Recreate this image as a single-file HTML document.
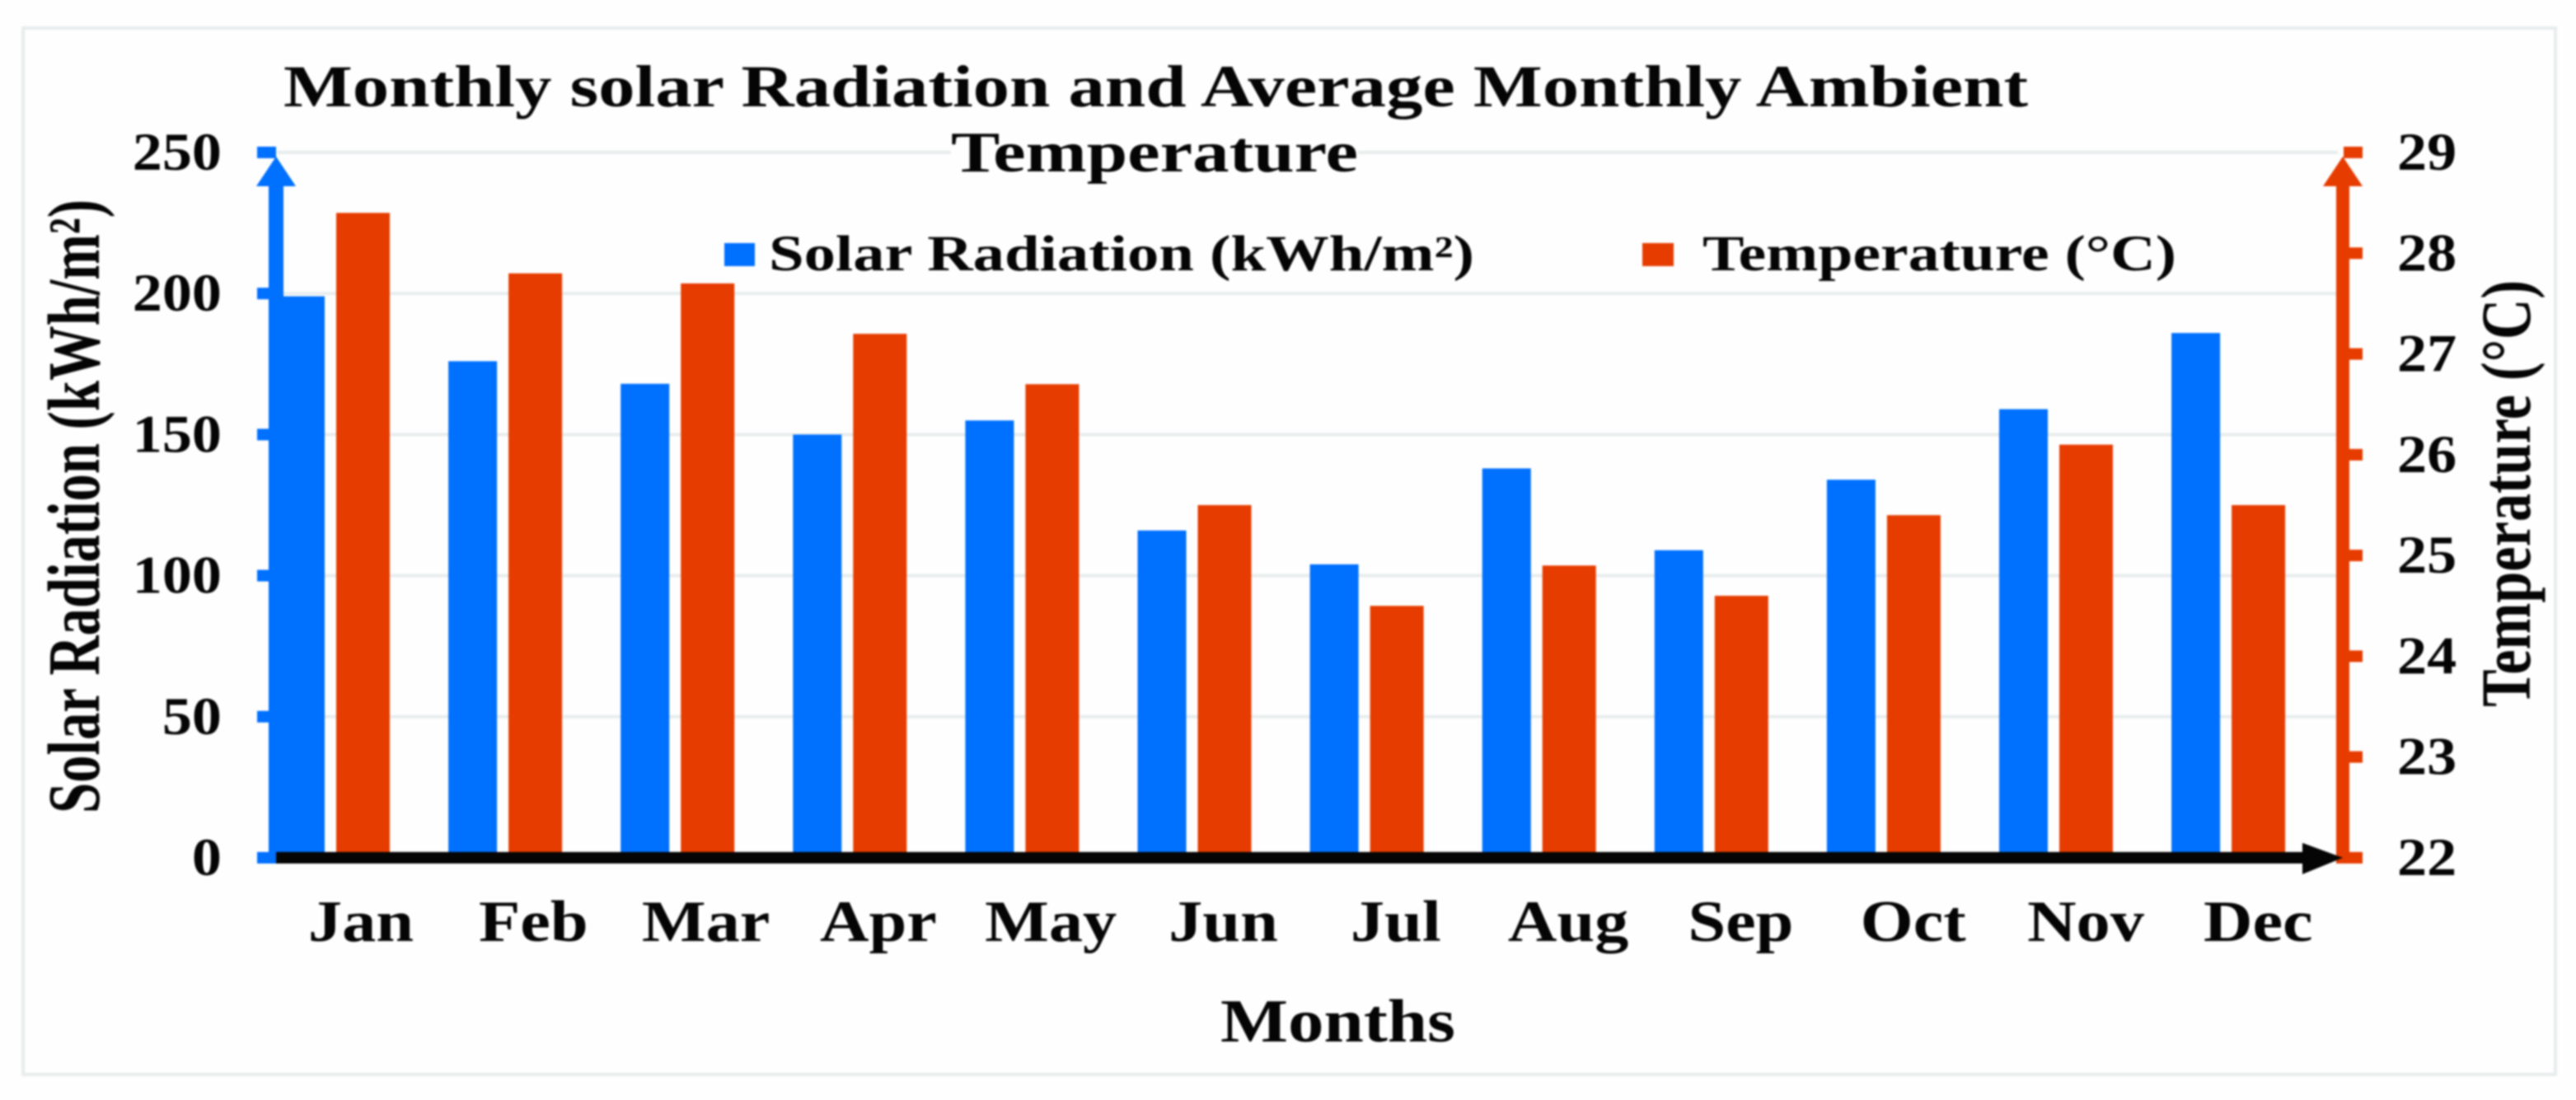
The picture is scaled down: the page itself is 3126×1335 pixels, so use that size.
<!DOCTYPE html>
<html lang="en">
<head>
<meta charset="utf-8">
<title>Monthly solar Radiation and Average Monthly Ambient Temperature</title>
<style>
  html, body { margin: 0; padding: 0; background: #fefefe; }
  body { width: 3126px; height: 1335px; overflow: hidden; }
  svg { display: block; filter: blur(1px); }
  text { font-family: "Liberation Serif", "Times New Roman", serif; font-weight: bold; fill: #050505; }
</style>
</head>
<body>
<svg id="chart" xmlns="http://www.w3.org/2000/svg" width="3126" height="1335" viewBox="0 0 3126 1335">
  <rect x="28" y="34" width="3073" height="1270" fill="#fefefe" stroke="#e8eded" stroke-width="4"/>
  <g id="grid"></g>
  <g id="bars"></g>
  <g id="axes"></g>
  <rect x="1154" y="168" width="494" height="36" fill="#fefefe"/>
  <text x="344" y="129" font-size="72" textLength="2117" lengthAdjust="spacingAndGlyphs">Monthly solar Radiation and Average Monthly Ambient</text>
  <text x="1154" y="208" font-size="70" textLength="494" lengthAdjust="spacingAndGlyphs">Temperature</text>
  <rect x="879" y="295" width="37" height="28" fill="#0070ff"/>
  <text x="933" y="328" font-size="61" textLength="856" lengthAdjust="spacingAndGlyphs">Solar Radiation (kWh/m²)</text>
  <rect x="1993" y="295" width="38" height="28" fill="#e63c00"/>
  <text x="2066" y="328" font-size="61" textLength="575" lengthAdjust="spacingAndGlyphs">Temperature (°C)</text>
  <text transform="translate(120,987) rotate(-90)" font-size="90" textLength="745" lengthAdjust="spacingAndGlyphs">Solar Radiation (kWh/m²)</text>
  <text transform="translate(3070,858) rotate(-90)" font-size="86" textLength="518" lengthAdjust="spacingAndGlyphs">Temperature (°C)</text>
  <text x="1481" y="1264" font-size="74" textLength="285" lengthAdjust="spacingAndGlyphs">Months</text>
  <g id="labels"></g>
</svg>
<script>
const categories = ["Jan", "Feb", "Mar", "Apr", "May", "Jun", "Jul", "Aug", "Sep", "Oct", "Nov", "Dec"];
const solarRadiation = [199, 176, 168, 150, 155, 116, 104, 138, 109, 134, 159, 186];
const temperature = [28.4, 27.8, 27.7, 27.2, 26.7, 25.5, 24.5, 24.9, 24.6, 25.4, 26.1, 25.5];
const leftTicks = [0, 50, 100, 150, 200, 250];
const rightTicks = [22, 23, 24, 25, 26, 27, 28, 29];

const NS = "http://www.w3.org/2000/svg";
const BLUE = "#0070ff", RED = "#e63c00", BLACK = "#050505", GRID = "#e8eded";
const plotTop = 185, plotBottom = 1041;
const leftMin = leftTicks[0], leftMax = leftTicks[leftTicks.length - 1];
const rightMin = rightTicks[0], rightMax = rightTicks[rightTicks.length - 1];

function yLeft(v) { return plotBottom - (v - leftMin) / (leftMax - leftMin) * (plotBottom - plotTop); }
function yRight(v) { return plotBottom - (v - rightMin) / (rightMax - rightMin) * (plotBottom - plotTop); }
function groupCenter(i) { return 404 + 209.1 * i; }
function labelCenter(i) { return 438 + 209.3 * i; }

function make(tag, attrs, parent) {
  const el = document.createElementNS(NS, tag);
  for (const k in attrs) el.setAttribute(k, attrs[k]);
  parent.appendChild(el);
  return el;
}

const gridG = document.getElementById("grid");
const barsG = document.getElementById("bars");
const axesG = document.getElementById("axes");
const labelsG = document.getElementById("labels");

leftTicks.forEach(function (t) {
  if (t === leftMin) return;
  const line = make("rect", { x: 337, y: yLeft(t) - 2, width: 2500, height: 4, fill: GRID }, gridG);
  
  
});

categories.forEach(function (c, i) {
  const cx = groupCenter(i);
  const yS = yLeft(solarRadiation[i]);
  const s = make("rect", { x: cx - 69, y: yS, width: 59, height: plotBottom - yS, fill: BLUE }, barsG);
  
  
  const yT = yRight(temperature[i]);
  const r = make("rect", { x: cx + 4, y: yT, width: 65, height: plotBottom - yT, fill: RED }, barsG);
  
  

  const lab = make("text", { transform: "translate(" + labelCenter(i) + ",1142) scale(1.16,1)", "text-anchor": "middle", "font-size": 71 }, labelsG);
  lab.textContent = c;
  
  
});

/* left axis */
const leftLine = make("rect", { x: 326, y: 222, width: 18, height: plotBottom - 222 + 7, fill: BLUE }, axesG);


const leftArrow = make("polygon", { points: "335,190 359,226 311,226", fill: BLUE }, axesG);


leftTicks.forEach(function (t) {
  const y = yLeft(t);
  const tick = make("rect", { x: 312, y: y - 7, width: 23, height: 14, fill: BLUE }, axesG);
  
  
  const lab = make("text", { transform: "translate(269," + (y + 21) + ") scale(1.11,1)", "text-anchor": "end", "font-size": 65 }, labelsG);
  lab.textContent = t;
  
  
});

/* right axis */
const rightLine = make("rect", { x: 2835, y: 222, width: 16, height: plotBottom - 222 + 7, fill: RED }, axesG);


const rightArrow = make("polygon", { points: "2843,190 2867,226 2819,226", fill: RED }, axesG);


rightTicks.forEach(function (t) {
  const y = yRight(t);
  const tick = make("rect", { x: 2844, y: y - 7, width: 23, height: 14, fill: RED }, axesG);
  
  
  const lab = make("text", { transform: "translate(2909," + (y + 21) + ") scale(1.11,1)", "font-size": 65 }, labelsG);
  lab.textContent = t;
  
  
});

/* x axis */
const xLine = make("rect", { x: 335, y: plotBottom - 7, width: 2465, height: 14, fill: BLACK }, axesG);


const xArrow = make("polygon", { points: "2794,1023 2843,1041 2794,1061", fill: BLACK }, axesG);


</script>
</body>
</html>
